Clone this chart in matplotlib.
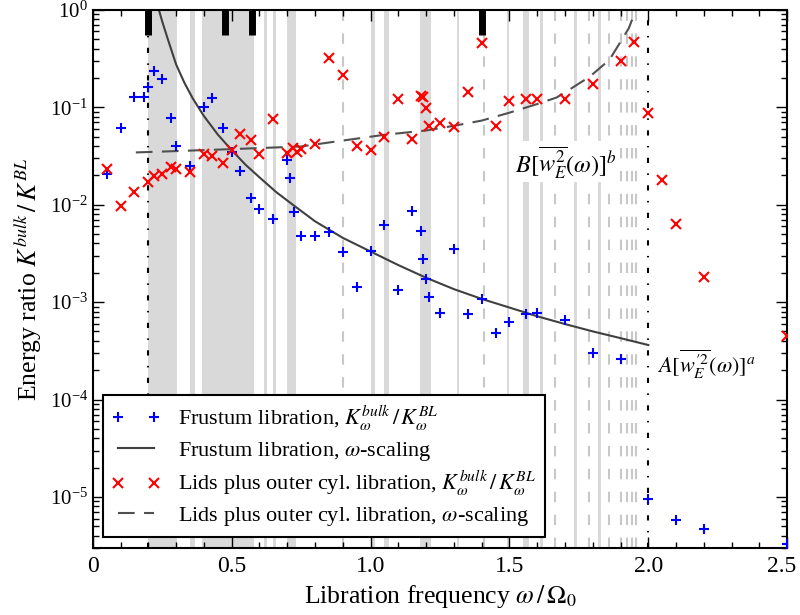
import matplotlib
matplotlib.use('Agg')
import matplotlib.pyplot as plt
import matplotlib.transforms as mtransforms
from matplotlib.ticker import MultipleLocator, LogLocator, NullFormatter
from matplotlib.lines import Line2D

plt.rcParams['font.family'] = 'serif'
plt.rcParams['font.serif'] = ['Liberation Serif', 'DejaVu Serif']
plt.rcParams['mathtext.fontset'] = 'stix'

# Frustum libration, K_bulk / K_BL
frustum_x = [0.05, 0.10, 0.15, 0.184, 0.20, 0.22, 0.25, 0.28, 0.30, 0.35,
             0.40, 0.43, 0.47, 0.50, 0.53, 0.57, 0.60, 0.65, 0.70, 0.71,
             0.725, 0.75, 0.80, 0.85, 0.90, 0.95, 1.00, 1.05, 1.10, 1.15,
             1.18, 1.19, 1.20, 1.21, 1.25, 1.30, 1.35, 1.40, 1.45, 1.50,
             1.56, 1.60, 1.70, 1.80, 1.90, 2.00, 2.10, 2.20, 2.50]
frustum_y = [0.0208, 0.062, 0.126, 0.128, 0.161, 0.233, 0.196, 0.0775, 0.0403, 0.0247,
             0.0995, 0.124, 0.061, 0.0344, 0.022, 0.0117, 0.0091, 0.0071, 0.029, 0.019,
             0.0085, 0.0048, 0.0048, 0.0052, 0.00324, 0.00143, 0.00332, 0.00614, 0.00134, 0.00855,
             0.0054, 0.00279, 0.00174, 0.00112, 0.00078, 0.00354, 0.00076, 0.00109, 0.00048, 0.00063,
             0.00076, 0.00078, 0.00065, 0.0003, 0.00026, 9.6e-6, 5.8e-6, 4.75e-6, 3.26e-6]

# Lids plus outer cylinder libration, K_bulk / K_BL
lids_x = [0.05, 0.10, 0.15, 0.20, 0.22, 0.25, 0.28, 0.30, 0.35, 0.40,
          0.43, 0.47, 0.50, 0.53, 0.57, 0.60, 0.65, 0.70, 0.72, 0.735,
          0.75, 0.80, 0.85, 0.90, 0.95, 1.00, 1.05, 1.10, 1.15, 1.18,
          1.19, 1.20, 1.21, 1.25, 1.30, 1.35, 1.40, 1.45, 1.50, 1.56,
          1.60, 1.70, 1.80, 1.90, 1.95, 2.00, 2.05, 2.10, 2.20, 2.50]
lids_y = [0.0234, 0.0096, 0.0135, 0.0173, 0.0198, 0.0206, 0.0241, 0.0233, 0.0216, 0.033,
          0.0313, 0.0268, 0.0366, 0.053, 0.0464, 0.0333, 0.0762, 0.0339, 0.0381, 0.035,
          0.0375, 0.0419, 0.324, 0.212, 0.0396, 0.0366, 0.0494, 0.122, 0.0472, 0.131,
          0.127, 0.098, 0.065, 0.0689, 0.0626, 0.142, 0.455, 0.065, 0.115, 0.122,
          0.122, 0.122, 0.174, 0.295, 0.473, 0.087, 0.018, 0.00634, 0.00181, 0.00045]

# omega-scaling curves
frustum_fit_x = [0.238, 0.25, 0.27, 0.30, 0.33, 0.36, 0.40, 0.45, 0.50, 0.55,
                 0.60, 0.66, 0.72, 0.80, 0.90, 1.00, 1.10, 1.20, 1.30, 1.40,
                 1.50, 1.60, 1.70, 1.80, 1.90, 2.00]
frustum_fit_y = [1.0, 0.759, 0.501, 0.275, 0.178, 0.123, 0.0813, 0.0525, 0.0363, 0.0257,
                 0.0191, 0.0135, 0.0100, 0.00676, 0.00457, 0.00331, 0.0024, 0.00178, 0.00136, 0.00108,
                 0.00088, 0.000716, 0.000596, 0.000501, 0.000427, 0.000363]
lids_fit_x = [0.155, 0.30, 0.50, 0.75, 0.85, 1.05, 1.20, 1.30, 1.40, 1.50,
              1.60, 1.67, 1.71, 1.79, 1.86, 1.90, 1.93, 1.955]
lids_fit_y = [0.0344, 0.0355, 0.0372, 0.0396, 0.0435, 0.0522, 0.0578, 0.0645, 0.073, 0.088,
              0.108, 0.126, 0.148, 0.207, 0.307, 0.47, 0.65, 1.0]

# shaded frequency bands and resonance lines
bands = [(0.198, 0.303), (0.35, 0.367), (0.393, 0.58), (0.616, 0.626), (0.65, 0.66),
         (0.70, 0.73), (1.0, 1.016), (1.05, 1.066), (1.178, 1.217), (1.31, 1.32),
         (1.49, 1.50), (1.55, 1.57), (1.61, 1.62), (1.733, 1.745), (1.82, 1.83)]
dashed_lines = [0.9, 1.41, 1.664, 1.787, 1.859, 1.90, 1.923, 1.94, 1.956]
limits = [0.2, 2.0]
top_marks = [0.2, 0.475, 0.573, 1.403]

fig = plt.figure(figsize=(8, 6.15), dpi=100)
ax = fig.add_axes([0.116, 0.109, 0.868, 0.875])

for x0, x1 in bands:
    ax.axvspan(x0, x1, color='#d9d9d9', lw=0, zorder=0)
for x in dashed_lines:
    ax.axvline(x, color='#c8c8c8', lw=1.5, dashes=(5, 6), zorder=0.5)
for x in limits:
    ax.axvline(x, color='black', lw=1.5, dashes=(2.5, 5, 0.7, 5), zorder=1)
for x in top_marks:
    ax.axvline(x, ymin=0.953, ymax=1, color='black', lw=5, solid_capstyle='butt', zorder=3)

ax.plot(frustum_fit_x, frustum_fit_y, color='#404040', lw=1.5, zorder=2)
ax.plot(lids_fit_x, lids_fit_y, color='#505050', lw=1.5, dashes=(8, 4.5), zorder=2)
ax.plot(frustum_x, frustum_y, ls='none', marker='+', ms=7.5, mew=1.5, color='blue', zorder=4)
ax.plot(lids_x, lids_y, ls='none', marker='x', ms=7, mew=1.5, color='red', zorder=4)

ax.text(1.52, 0.0276, r'$B[\overline{w_E^2}(\omega)]^b$', fontsize=17.5, va='center',
        bbox=dict(facecolor='white', edgecolor='none', pad=2), zorder=5)
ax.text(2.03, 0.00023, r'$A[\overline{w_E^{\prime 2}}(\omega)]^a$', fontsize=16, va='center', zorder=5)

ax.set_yscale('log')
ax.set_xlim(0, 2.5)
ax.set_ylim(3e-6, 1)
ax.set_xticks([0, 0.5, 1.0, 1.5, 2.0, 2.5])
ax.set_xticklabels(['0', '0.5', '1.0', '1.5', '2.0', '2.5'])
ax.xaxis.set_minor_locator(MultipleLocator(0.1))
ax.yaxis.set_major_locator(LogLocator(base=10, numticks=20))
ax.yaxis.set_minor_locator(LogLocator(base=10, subs=range(2, 10), numticks=20))
ax.yaxis.set_minor_formatter(NullFormatter())
ax.tick_params(which='both', direction='in', top=True, right=True, width=1)
ax.tick_params(axis='x', labelsize=17, pad=6)
ax.tick_params(axis='y', labelsize=15)
ax.tick_params(which='major', length=8)
ax.tick_params(which='minor', length=4)
for s in ax.spines.values():
    s.set_linewidth(1.5)

# keep the last x tick label inside the figure
last = ax.xaxis.get_major_ticks()[-1].label1
last.set_transform(last.get_transform() + mtransforms.ScaledTranslation(-4 / 72, 0, fig.dpi_scale_trans))

ax.set_xlabel(r'Libration frequency $\omega\,/\,\mathit{\Omega}_0$', fontsize=18.5)
ax.set_ylabel(r'Energy ratio $K^{bulk}\,/\,K^{BL}$', fontsize=18.5)

handles = [
    Line2D([], [], ls='none', marker='+', ms=7.5, mew=1.5, color='blue'),
    Line2D([], [], color='#404040', lw=1.5),
    Line2D([], [], ls='none', marker='x', ms=7, mew=1.5, color='red'),
    Line2D([], [], color='#505050', lw=1.5, dashes=(8, 4.5)),
]
labels = [
    r'Frustum libration, $K_\omega^{bulk}\,/\,K_\omega^{BL}$',
    r'Frustum libration, $\omega$-scaling',
    r'Lids plus outer cyl. libration, $K_\omega^{bulk}\,/\,K_\omega^{BL}$',
    r'Lids plus outer cyl. libration, $\omega$-scaling',
]
leg = ax.legend(handles, labels, loc='lower left', bbox_to_anchor=(0.0144, 0.0204),
                borderaxespad=0, numpoints=2, fancybox=False, edgecolor='black',
                framealpha=1, fontsize=16, handlelength=2.2, labelspacing=0.3,
                borderpad=0.4)
leg.get_frame().set_linewidth(1.5)
leg.set_zorder(10)

plt.savefig('out.png', dpi=100)
